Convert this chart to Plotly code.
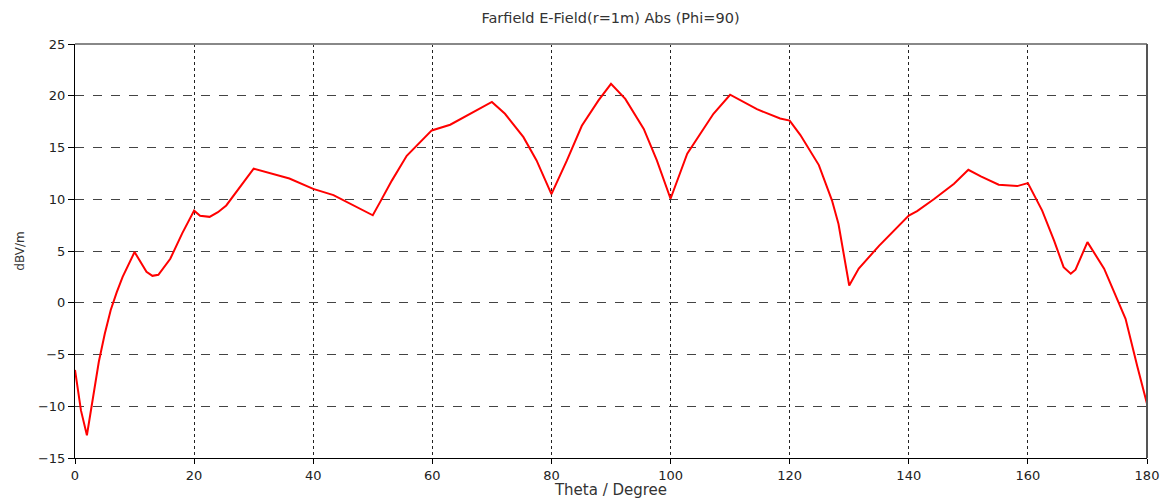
import plotly.graph_objects as go

theta = [0, 1, 2, 3, 4, 5, 6, 7, 8, 10, 12, 13, 14, 16, 18, 20, 21, 22.6, 24, 25.4, 27.7, 30,
         36, 40, 43.4, 50, 51.2, 53.2, 55.7, 57.4, 59.9, 63, 66.3, 70, 72.2, 75.3, 77.5, 80,
         82.6, 85.1, 87.9, 90, 92.4, 95.5, 97.7, 100, 102.8, 105, 107.2, 110, 114.5, 118.4, 120,
         121.8, 123.8, 124.9, 127.1, 128.2, 130, 131.6, 135, 138.1, 140, 141.4, 144.2, 147.6, 150,
         152.1, 155.1, 158.2, 160, 162.4, 164.4, 166, 167.2, 168, 170, 172.8, 174.5, 176.4, 178.4, 180]
efield = [-6.5, -10.4, -12.8, -9.4, -5.7, -3.0, -0.7, 1.0, 2.5, 4.9, 3.0, 2.6, 2.7, 4.25, 6.7, 8.9, 8.4, 8.3, 8.75, 9.4, 11.2, 12.95,
          12.0, 11.0, 10.4, 8.45, 9.7, 11.8, 14.2, 15.2, 16.65, 17.2, 18.26, 19.4, 18.26, 16.0, 13.75, 10.5,
          13.75, 17.1, 19.55, 21.15, 19.7, 16.8, 13.75, 10.05, 14.4, 16.3, 18.26, 20.1, 18.7, 17.8, 17.6,
          16.2, 14.4, 13.3, 9.9, 7.6, 1.67, 3.3, 5.5, 7.3, 8.43, 8.85, 10.0, 11.5, 12.85,
          12.2, 11.4, 11.27, 11.56, 8.9, 6.0, 3.44, 2.8, 3.2, 5.86, 3.3, 1.03, -1.55, -6.2, -9.76]

x_ticks = [0, 20, 40, 60, 80, 100, 120, 140, 160, 180]
y_ticks = [-15, -10, -5, 0, 5, 10, 15, 20, 25]

font_family = "DejaVu Sans, Verdana, sans-serif"

fig = go.Figure()
fig.add_trace(go.Scatter(x=theta, y=efield, mode="lines",
                         line=dict(color="#ff0000", width=2), showlegend=False))

fig.update_layout(
    width=1163, height=499,
    margin=dict(l=75, r=16, t=44, b=41),
    paper_bgcolor="white", plot_bgcolor="white",
    title=dict(text="Farfield E-Field(r=1m) Abs (Phi=90)", x=610.5 / 1163, xanchor="center",
               y=1 - 18 / 499, yanchor="middle", font=dict(family=font_family, size=14.5, color="#333333")),
    font=dict(family=font_family, size=13, color="#222222"),
    xaxis=dict(range=[0, 180], tickvals=x_ticks, showgrid=True, gridcolor="#222222",
               griddash="dot", gridwidth=1, zeroline=False, showline=True, linecolor="black",
               linewidth=1, ticks="outside", ticklen=5, tickcolor="black", automargin=False,
               tickfont=dict(size=13, color="#222222"),
               title=dict(text="Theta / Degree", standoff=5, font=dict(size=15, color="#333333"))),
    yaxis=dict(range=[-15, 25], tickvals=y_ticks, showgrid=True, gridcolor="#444444",
               griddash="dash", gridwidth=1, zeroline=False, showline=True, linecolor="black",
               linewidth=1, ticks="outside", ticklen=6, tickcolor="black", automargin=False,
               tickfont=dict(size=13, color="#222222"),
               title=dict(text="dBV/m", standoff=10, font=dict(size=12, color="#333333"))),
)
fig.add_shape(type="line", xref="paper", yref="paper", x0=0, x1=1, y0=1, y1=1,
              line=dict(color="#888888", width=2))
fig.add_shape(type="line", xref="paper", yref="paper", x0=1, x1=1, y0=0, y1=1,
              line=dict(color="#555555", width=2))

fig.write_html("out.html", config={"displayModeBar": False},
               post_script="document.body.style.margin='0';document.body.style.overflow='hidden';")
